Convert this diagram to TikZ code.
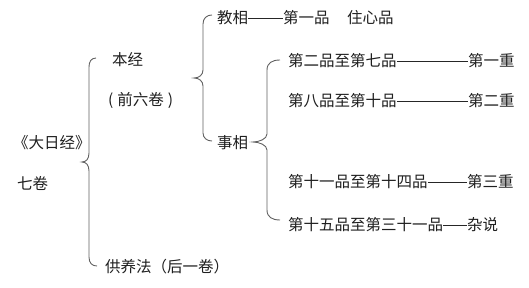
\documentclass[tikz,border=0pt]{standalone}
\usepackage{fontspec}
\setmainfont{Noto Sans CJK SC}
\begin{document}
\begin{tikzpicture}[x=1pt,y=-1pt,
  txt/.style={anchor=west,inner sep=0pt,text=black!88,font=\fontsize{15.5}{18}\selectfont},
  br/.style={draw=black!62,line width=0.9pt},
  dashline/.style={draw=black!85,line width=0.8pt}]
\useasboundingbox[fill=white] (0,0) rectangle (529,288);
% texts
\node[txt] (dari) at (13,143) {《大日经》};
\node[txt] (qijuan) at (17,183) {七卷};
\node[txt] (benjing) at (112,60) {本经};
\node[txt] (qianliu) at (108,100) {(\hspace{4pt}前六卷\hspace{4pt})};
\node[txt] (gongyang) at (105,267) {供养法（后一卷）};
\node[txt] (jiao) at (217,18) {教相};
\node[txt] (d1) at (283,18) {第一品};
\node[txt] (zhuxin) at (347,18) {住心品};
\node[txt] (shi) at (217,143) {事相};
\node[txt] (p27) at (288,61) {第二品至第七品};
\node[txt] (z1) at (468,61) {第一重};
\node[txt] (p810) at (288,101) {第八品至第十品};
\node[txt] (z2) at (468,101) {第二重};
\node[txt] (p1114) at (288,182) {第十一品至第十四品};
\node[txt] (z3) at (467,182) {第三重};
\node[txt] (p1531) at (288,225) {第十五品至第三十一品};
\node[txt] (zs) at (467,225) {杂说};
% dash connectors
\draw[dashline] (jiao.east) -- (d1.west);
\draw[dashline] (p27.east) -- (z1.west);
\draw[dashline] (p810.east) -- (z2.west);
\draw[dashline] (p1114.east) -- (z3.west);
\draw[dashline] (p1531.east) -- (zs.west);
% braces
\draw[br] (96,58) .. controls (91,58) and (89,62) .. (89,67) -- (89,153)
  .. controls (89,159) and (86,162) .. (82,162)
  .. controls (86,162) and (89,165) .. (89,171) -- (89,257)
  .. controls (89,263) and (92,266) .. (97,266);
\draw[br] (212,15) .. controls (207,15) and (203,18) .. (203,24) -- (203,70)
  .. controls (203,75) and (199,78) .. (194,78)
  .. controls (199,78) and (203,81) .. (203,86) -- (203,133)
  .. controls (203,138) and (207,141) .. (212,141);
\draw[br] (280,60) .. controls (272,60) and (267,63) .. (267,70) -- (267,134)
  .. controls (267,139) and (259,142) .. (253,142)
  .. controls (259,142) and (267,145) .. (267,150) -- (267,210)
  .. controls (267,217) and (272,220) .. (280,220);
\end{tikzpicture}
\end{document}
